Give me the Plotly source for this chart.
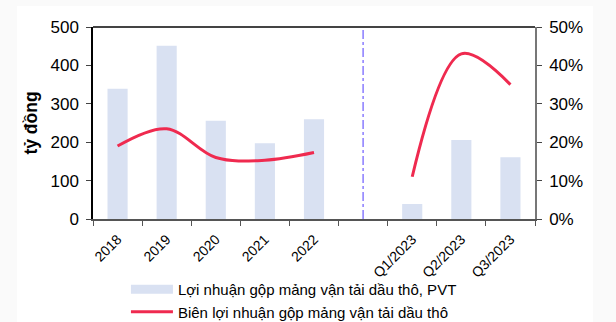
import plotly.graph_objects as go

categories = ["2018", "2019", "2020", "2021", "2022", "", "Q1/2023", "Q2/2023", "Q3/2023"]
gross_profit = [339, 451, 256, 197, 260, None, 39, 206, 161]
gross_margin = [0.19, 0.235, 0.16, 0.153, 0.173, None, 0.11, 0.43, 0.35]
y_ticks = [0, 100, 200, 300, 400, 500]
y2_ticks = [0, 0.1, 0.2, 0.3, 0.4, 0.5]
bar_name = "Lợi nhuận gộp mảng vận tải dầu thô, PVT"
line_name = "Biên lợi nhuận gộp mảng vận tải dầu thô"
bar_color = "#d9e1f2"
line_color = "#ef2a4f"

xs = list(range(len(categories)))
font = "Liberation Sans, Arial, sans-serif"

fig = go.Figure()
fig.add_trace(go.Bar(
    x=xs, y=gross_profit, name=bar_name, showlegend=False,
    marker=dict(color=bar_color, line=dict(width=0)), width=0.41,
))
# legend-only entry giving the wide rectangular swatch of the reference
fig.add_trace(go.Scatter(
    x=[None], y=[None], name=bar_name, mode="lines",
    line=dict(color=bar_color, width=9),
))
fig.add_trace(go.Scatter(
    x=xs, y=gross_margin, name=line_name,
    mode="lines", line=dict(color=line_color, width=3, shape="spline", smoothing=1.0),
    connectgaps=False, yaxis="y2",
))

fig.add_shape(type="rect", xref="paper", yref="paper",
              x0=(17 - 93) / 442, x1=(593 - 93) / 442, y0=-1.0, y1=(219 - 6) / 192,
              fillcolor="white", line=dict(width=0), layer="below")
fig.add_shape(type="line", xref="x", yref="paper", x0=5, x1=5, y0=0, y1=1,
              line=dict(color="#8a7cff", width=1.5, dash="dashdot"))

fig.update_layout(
    width=616, height=322,
    margin=dict(l=93, r=81, t=27, b=103, autoexpand=False),
    paper_bgcolor="#fafafa", plot_bgcolor="white",
    font=dict(family=font, color="black"),
    showlegend=True,
    legend=dict(orientation="v", x=0.07 + 2 / 442, xanchor="left",
                y=-(322 - 219) / 192 + 0.005 - 7 / 192,
                yanchor="bottom",
                font=dict(size=15, family=font), itemwidth=42,
                bgcolor="rgba(0,0,0,0)", tracegroupgap=0),
    xaxis=dict(range=[-0.5, 8.5], tickmode="array", tickvals=xs, ticktext=categories,
               tickangle=-45, ticks="", showgrid=False, zeroline=False,
               showline=True, linecolor="#555", linewidth=1.5, mirror=False,
               tickfont=dict(size=14), automargin=False, ticklabelstandoff=5,
               minor=dict(tickmode="linear", tick0=-0.5, dtick=1, ticks="outside",
                          ticklen=5, tickcolor="#555", showgrid=False)),
    yaxis=dict(range=[0, 500], tickvals=y_ticks, ticks="outside", ticklen=5,
               showgrid=False, zeroline=False, showline=True, linecolor="black",
               linewidth=1.5, tickfont=dict(size=17), automargin=False,
               ticklabelstandoff=4,
               title=dict(text="<b>tỷ đồng</b>", font=dict(size=17.5), standoff=8)),
    yaxis2=dict(range=[0, 0.5], tickvals=y2_ticks, tickformat=".0%", overlaying="y",
                side="right", ticks="outside", ticklen=5, showgrid=False,
                zeroline=False, showline=True, linecolor="#777", linewidth=1.5,
                tickfont=dict(size=17), ticklabelstandoff=4, automargin=False),
)
fig.add_shape(type="line", xref="paper", yref="paper", x0=0, x1=1, y0=1, y1=1,
              line=dict(color="#444", width=2))

fig.write_html("out.html")
